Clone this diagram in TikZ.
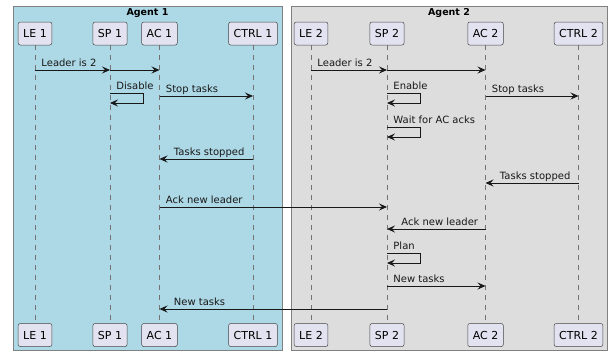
\documentclass[tikz,border=0pt]{standalone}
\usepackage{fontspec}
\setmainfont{DejaVu Sans}
\usetikzlibrary{arrows.meta}
\definecolor{agentone}{HTML}{ADD8E6}
\definecolor{agenttwo}{HTML}{DDDDDD}
\definecolor{partfill}{HTML}{E2E2F0}
\definecolor{ink}{HTML}{181818}
\begin{document}
\begin{tikzpicture}[x=1pt, y=-1pt, part_style/.style={draw=ink!80,fill=partfill,line width=0.5pt,rounded corners=2pt,minimum height=23pt,inner xsep=5pt,font=\fontsize{11}{13}\selectfont}, group_style/.style={draw=black!50,line width=0.6pt}, title_style/.style={font=\fontsize{9.5}{11}\bfseries\selectfont}, life_style/.style={draw=black!55,line width=0.5pt,dash pattern=on 5pt off 5pt}, msg_style/.style={draw=ink,line width=0.9pt,-{Stealth[length=8pt,width=7pt,inset=3pt]}}, lbl_r/.style={pos=0,anchor=base west,xshift=6pt,yshift=4pt,font=\fontsize{10}{12}\selectfont,text=ink,inner sep=0pt}, lbl_l/.style={pos=1,anchor=base west,xshift=14pt,yshift=4pt,font=\fontsize{10}{12}\selectfont,text=ink,inner sep=0pt}]
      \useasboundingbox (0,0) rectangle (608,351);
      \draw[group_style,fill=agentone] (13,6) rectangle (282,350.5);
      \draw[group_style,fill=agenttwo] (291,6) rectangle (607.5,350.5);
      \node[title_style] (agent1) at (147.5,13) {Agent 1};
      \node[title_style] (agent2) at (449,13) {Agent 2};
      \draw
        (35,33.5) node[part_style] (le1_top){LE 1}
        (110,33.5) node[part_style] (sp1_top){SP 1}
        (159.5,33.5) node[part_style] (ac1_top){AC 1}
        (253,33.5) node[part_style] (ctrl1_top){CTRL 1}
        (311,33.5) node[part_style] (le2_top){LE 2}
        (387,33.5) node[part_style] (sp2_top){SP 2}
        (485.5,33.5) node[part_style] (ac2_top){AC 2}
        (578.5,33.5) node[part_style] (ctrl2_top){CTRL 2};
      \draw
        (35,335) node[part_style] (le1_bot){LE 1}
        (110,335) node[part_style] (sp1_bot){SP 1}
        (159.5,335) node[part_style] (ac1_bot){AC 1}
        (253,335) node[part_style] (ctrl1_bot){CTRL 1}
        (311,335) node[part_style] (le2_bot){LE 2}
        (387,335) node[part_style] (sp2_bot){SP 2}
        (485.5,335) node[part_style] (ac2_bot){AC 2}
        (578.5,335) node[part_style] (ctrl2_bot){CTRL 2};
      % message rows
      \path
        (0,70) coordinate (leader)
        (0,93) coordinate (selfa) (0,103) coordinate (selfa_end)
        (0,96) coordinate (stop)
        (0,127) coordinate (wait) (0,137) coordinate (wait_end)
        (0,159) coordinate (stopped1)
        (0,183) coordinate (stopped2)
        (0,207) coordinate (ack1)
        (0,229) coordinate (ack2)
        (0,253) coordinate (plan) (0,263) coordinate (plan_end)
        (0,286) coordinate (new2)
        (0,309) coordinate (new1);
      \begin{scope}
        \draw[life_style] (le1_top) -- (le1_bot);
        \draw[life_style] (sp1_top) -- (sp1_bot);
        \draw[life_style] (ac1_top) -- (ac1_bot);
        \draw[life_style] (ctrl1_top) -- (ctrl1_bot);
        \draw[life_style] (le2_top) -- (le2_bot);
        \draw[life_style] (sp2_top) -- (sp2_bot);
        \draw[life_style] (ac2_top) -- (ac2_bot);
        \draw[life_style] (ctrl2_top) -- (ctrl2_bot);
      \end{scope}
      \begin{scope}
        \draw[msg_style] (le1_top |- leader) -- node[lbl_r] {Leader is 2} (sp1_top |- leader);
        \draw[msg_style] (sp1_top |- leader) -- (ac1_top |- leader);
        \draw[msg_style] (le2_top |- leader) -- node[lbl_r] {Leader is 2} (sp2_top |- leader);
        \draw[msg_style] (sp2_top |- leader) -- (ac2_top |- leader);
        \draw[msg_style] (sp1_top |- selfa) -- node[lbl_r] {Disable} ++(33,0) |- (sp1_top |- selfa_end);
        \draw[msg_style] (ac1_top |- stop) -- node[lbl_r] {Stop tasks} (ctrl1_top |- stop);
        \draw[msg_style] (sp2_top |- selfa) -- node[lbl_r] {Enable} ++(33,0) |- (sp2_top |- selfa_end);
        \draw[msg_style] (ac2_top |- stop) -- node[lbl_r] {Stop tasks} (ctrl2_top |- stop);
        \draw[msg_style] (sp2_top |- wait) -- node[lbl_r] {Wait for AC acks} ++(33,0) |- (sp2_top |- wait_end);
        \draw[msg_style] (ctrl1_top |- stopped1) -- node[lbl_l] {Tasks stopped} (ac1_top |- stopped1);
        \draw[msg_style] (ctrl2_top |- stopped2) -- node[lbl_l] {Tasks stopped} (ac2_top |- stopped2);
        \draw[msg_style] (ac1_top |- ack1) -- node[lbl_r] {Ack new leader} (sp2_top |- ack1);
        \draw[msg_style] (ac2_top |- ack2) -- node[lbl_l] {Ack new leader} (sp2_top |- ack2);
        \draw[msg_style] (sp2_top |- plan) -- node[lbl_r] {Plan} ++(33,0) |- (sp2_top |- plan_end);
        \draw[msg_style] (sp2_top |- new2) -- node[lbl_r] {New tasks} (ac2_top |- new2);
        \draw[msg_style] (sp2_top |- new1) -- node[lbl_l] {New tasks} (ac1_top |- new1);
      \end{scope}
    \end{tikzpicture}
\end{document}
